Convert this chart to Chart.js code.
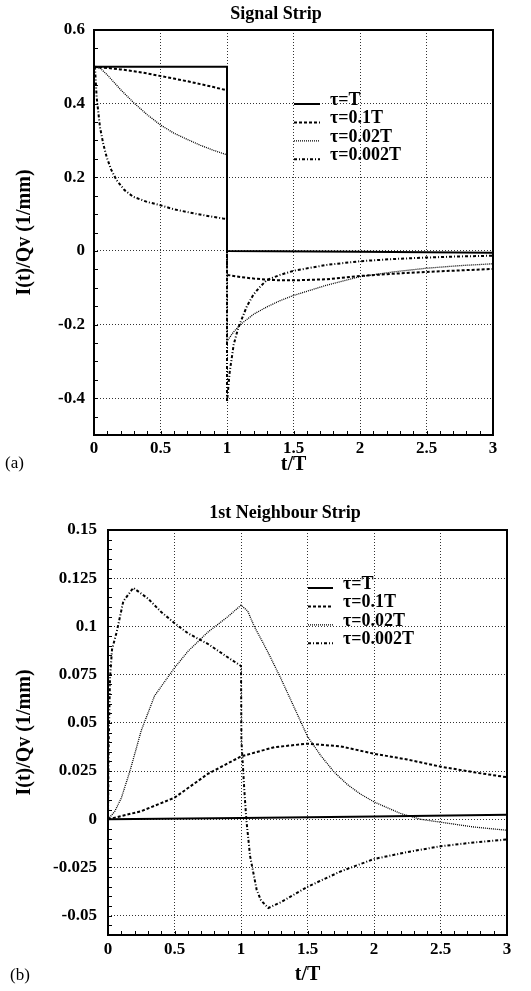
<!DOCTYPE html>
<html>
<head>
<meta charset="utf-8">
<script src="https://cdn.jsdelivr.net/npm/chart.js@4"></script>
<style>
  body { margin: 0; background: #fff; }
  #wrap { position: relative; width: 531px; height: 991px; font-family: "Liberation Serif", "Times New Roman", serif; color: #000; }
  canvas { position: absolute; left: 0; }
  .ttl { position: absolute; font-weight: bold; font-size: 18px; white-space: nowrap; transform: translate(-50%, -50%); }
  .tag { position: absolute; font-size: 17px; transform: translateY(-50%); }
</style>
</head>
<body>
<div id="wrap">
  <canvas id="chartA" width="531" height="490" style="top:0"></canvas>
  <canvas id="chartB" width="531" height="501" style="top:490px"></canvas>
  <div class="ttl" style="left:276px;top:13px">Signal Strip</div>
  <div class="ttl" style="left:285px;top:512px">1st Neighbour Strip</div>
  <div class="tag" style="left:5px;top:463px">(a)</div>
  <div class="tag" style="left:10px;top:975px">(b)</div>
</div>
<script>
// legend labels
const labels = ["τ=T", "τ=0.1T", "τ=0.02T", "τ=0.002T"];

// tick labels
const xTicks = [0, 0.5, 1, 1.5, 2, 2.5, 3];
const yTicksA = [-0.4, -0.2, 0, 0.2, 0.4, 0.6];
const yTicksB = [-0.05, -0.025, 0, 0.025, 0.05, 0.075, 0.1, 0.125, 0.15];

// (a) Signal Strip
const tA1 = [0, 1, 1, 2, 3];
const vA1 = [0.5, 0.5, 0, -0.002, -0.005];

const tA2 = [0, 0.1, 0.2, 0.3, 0.4, 0.5, 0.6, 0.7, 0.8, 0.9, 1.0, 1.0, 1.1, 1.2, 1.3, 1.4, 1.5, 1.75, 2.0, 2.25, 2.5, 2.75, 3.0];
const vA2 = [0.5, 0.497, 0.493, 0.488, 0.482, 0.475, 0.468, 0.461, 0.453, 0.445, 0.436, -0.065, -0.071, -0.075, -0.078, -0.08, -0.08, -0.077, -0.068, -0.062, -0.057, -0.053, -0.049];

const tA3 = [0, 0.05, 0.1, 0.15, 0.2, 0.3, 0.4, 0.5, 0.6, 0.7, 0.8, 0.9, 1.0, 1.0, 1.05, 1.1, 1.2, 1.3, 1.4, 1.5, 1.75, 2.0, 2.25, 2.5, 2.75, 3.0];
const vA3 = [0.5, 0.495, 0.478, 0.458, 0.438, 0.402, 0.37, 0.342, 0.32, 0.303, 0.287, 0.273, 0.261, -0.245, -0.22, -0.2, -0.172, -0.152, -0.135, -0.121, -0.093, -0.07, -0.057, -0.047, -0.04, -0.035];

const tA4 = [0, 0.008, 0.02, 0.045, 0.07, 0.095, 0.13, 0.17, 0.23, 0.295, 0.4, 0.5, 0.6, 0.75, 0.87, 0.97, 1.0, 1.0, 1.02, 1.05, 1.08, 1.1, 1.15, 1.2, 1.25, 1.3, 1.4, 1.5, 1.75, 2.0, 2.25, 2.5, 2.75, 3.0];
const vA4 = [0.5, 0.494, 0.417, 0.336, 0.29, 0.255, 0.22, 0.192, 0.165, 0.147, 0.133, 0.124, 0.113, 0.102, 0.094, 0.088, 0.087, -0.41, -0.33, -0.255, -0.215, -0.195, -0.15, -0.118, -0.097, -0.079, -0.065, -0.054, -0.038, -0.028, -0.022, -0.018, -0.015, -0.013];

// (b) 1st Neighbour Strip
const tB1 = [0, 1, 2, 3];
const vB1 = [0, 0.0007, 0.0015, 0.0023];

const tB2 = [0, 0.25, 0.5, 0.75, 1.0, 1.25, 1.5, 1.75, 2.0, 2.25, 2.5, 2.75, 3.0];
const vB2 = [0, 0.0042, 0.0112, 0.0235, 0.0326, 0.0374, 0.0392, 0.0378, 0.034, 0.031, 0.0273, 0.0244, 0.0218];

const tB3 = [0, 0.05, 0.1, 0.165, 0.25, 0.35, 0.5, 0.6, 0.75, 0.9, 1.0, 1.05, 1.1, 1.2, 1.3, 1.4, 1.5, 1.6, 1.7, 1.8, 1.9, 2.0, 2.2, 2.35, 2.5, 2.75, 3.0];
const vB3 = [0, 0.004, 0.011, 0.025, 0.046, 0.064, 0.0785, 0.087, 0.097, 0.105, 0.111, 0.108, 0.1, 0.087, 0.073, 0.058, 0.043, 0.033, 0.0245, 0.018, 0.013, 0.009, 0.003, 0.0, -0.0015, -0.004, -0.0057];

const tB4 = [0, 0.005, 0.015, 0.03, 0.065, 0.115, 0.19, 0.3, 0.4, 0.5, 0.6, 0.75, 0.9, 1.0, 1.003, 1.025, 1.04, 1.068, 1.118, 1.15, 1.205, 1.3, 1.4, 1.5, 1.75, 2.0, 2.25, 2.5, 2.75, 3.0];
const vB4 = [0, 0.04, 0.073, 0.088, 0.097, 0.113, 0.12, 0.1145, 0.1075, 0.1017, 0.0965, 0.091, 0.084, 0.0795, 0.041, 0.015, 0.0, -0.019, -0.0366, -0.042, -0.046, -0.043, -0.039, -0.035, -0.027, -0.0206, -0.017, -0.014, -0.012, -0.0105];

const serif = '"Liberation Serif", "Times New Roman", serif';
const styles = [
  { borderWidth: 2, borderDash: [] },
  { borderWidth: 2, borderDash: [3, 2] },
  { borderWidth: 1.3, borderDash: [1, 1] },
  { borderWidth: 2, borderDash: [3, 2, 1, 2] }
];

const pts = (ts, vs) => ts.map((t, i) => ({ x: t, y: vs[i] }));

// frame round the plot plus small inward minor ticks on left and bottom axes
const framePlugin = {
  id: 'frame',
  afterDatasetsDraw(chart, args, o) {
    const { ctx, chartArea: a, scales: { x, y } } = chart;
    ctx.save();
    ctx.strokeStyle = '#000';
    ctx.lineWidth = 1;
    ctx.beginPath();
    let n = Math.round((x.max - x.min) / o.xMinor);
    for (let i = 0; i <= n; i++) {
      const px = Math.round(x.getPixelForValue(x.min + i * o.xMinor)) + 0.5;
      ctx.moveTo(px, a.bottom);
      ctx.lineTo(px, a.bottom - 4);
    }
    n = Math.round((y.max - y.min) / o.yMinor);
    for (let i = 0; i <= n; i++) {
      const py = Math.round(y.getPixelForValue(y.min + i * o.yMinor)) + 0.5;
      ctx.moveTo(a.left, py);
      ctx.lineTo(a.left + 4, py);
    }
    ctx.stroke();
    ctx.lineWidth = 2;
    ctx.strokeRect(a.left, a.top, a.right - a.left, a.bottom - a.top);
    ctx.restore();
  }
};

// legend drawn inside the plot
const keyPlugin = {
  id: 'keyBox',
  afterDraw(chart, args, o) {
    const ctx = chart.ctx;
    chart.data.datasets.forEach((ds, i) => {
      const y = o.y + i * o.dy;
      ctx.save();
      ctx.strokeStyle = '#000';
      ctx.lineWidth = ds.borderWidth;
      ctx.setLineDash(ds.borderDash);
      ctx.beginPath();
      ctx.moveTo(o.x, y);
      ctx.lineTo(o.x + o.len, y);
      ctx.stroke();
      ctx.setLineDash([]);
      ctx.fillStyle = '#000';
      ctx.font = 'bold 18px ' + serif;
      ctx.textBaseline = 'alphabetic';
      ctx.fillText(ds.label, o.x + o.len + o.gap, y + 1);
      ctx.restore();
    });
  }
};

function makeChart(id, series, yMin, yMax, yTicks, yMinor, c) {
  return new Chart(document.getElementById(id), {
    type: 'line',
    data: {
      datasets: series.map((d, i) => ({
        label: labels[i],
        data: d,
        borderColor: '#000',
        borderWidth: styles[i].borderWidth,
        borderDash: styles[i].borderDash,
        pointRadius: 0,
        tension: 0,
        fill: false
      }))
    },
    options: {
      responsive: false,
      animation: false,
      layout: { padding: { top: c.top, right: c.right, left: 0, bottom: 0 } },
      plugins: {
        legend: { display: false },
        tooltip: { enabled: false },
        frame: { xMinor: 0.1, yMinor: yMinor },
        keyBox: c.key
      },
      scales: {
        x: {
          type: 'linear', min: 0, max: 3,
          afterBuildTicks: s => { s.ticks = xTicks.map(v => ({ value: v })); },
          afterFit: s => { s.height = c.xH; },
          grid: { color: '#333', lineWidth: 1, drawTicks: false },
          border: { display: false, dash: [1, 2] },
          ticks: { padding: c.xPad, color: '#000', font: { family: serif, size: 17, weight: 'bold' }, maxRotation: 0, autoSkip: false, callback: v => String(v) },
          title: { display: true, text: 't/T', color: '#000', font: { family: serif, size: 20, weight: 'bold' }, padding: { top: 0, bottom: c.xTitlePad } }
        },
        y: {
          type: 'linear', min: yMin, max: yMax,
          afterBuildTicks: s => { s.ticks = yTicks.map(v => ({ value: v })); },
          afterFit: s => { s.width = c.yW; },
          grid: { color: '#333', lineWidth: 1, drawTicks: false },
          border: { display: false, dash: [1, 2] },
          ticks: { padding: c.yPad, color: '#000', font: { family: serif, size: 17, weight: 'bold' }, autoSkip: false, callback: v => String(v) },
          title: { display: true, text: 'I(t)/Qv (1/mm)', color: '#000', font: { family: serif, size: 20, weight: 'bold' }, padding: { top: 13, bottom: 0 } }
        }
      }
    },
    plugins: [framePlugin, keyPlugin]
  });
}

makeChart('chartA', [pts(tA1, vA1), pts(tA2, vA2), pts(tA3, vA3), pts(tA4, vA4)],
  -0.5, 0.6, yTicksA, 0.05,
  { top: 30, right: 38, yW: 94, xH: 55, xPad: 3, yPad: 9, xTitlePad: 13,
    key: { x: 294, y: 104, dy: 18.4, len: 26, gap: 10 } });

makeChart('chartB', [pts(tB1, vB1), pts(tB2, vB2), pts(tB3, vB3), pts(tB4, vB4)],
  -0.06, 0.15, yTicksB, 0.005,
  { top: 40, right: 24, yW: 108, xH: 56, xPad: 4, yPad: 11, xTitlePad: 4,
    key: { x: 308, y: 98, dy: 18.4, len: 25, gap: 10 } });
</script>
</body>
</html>
